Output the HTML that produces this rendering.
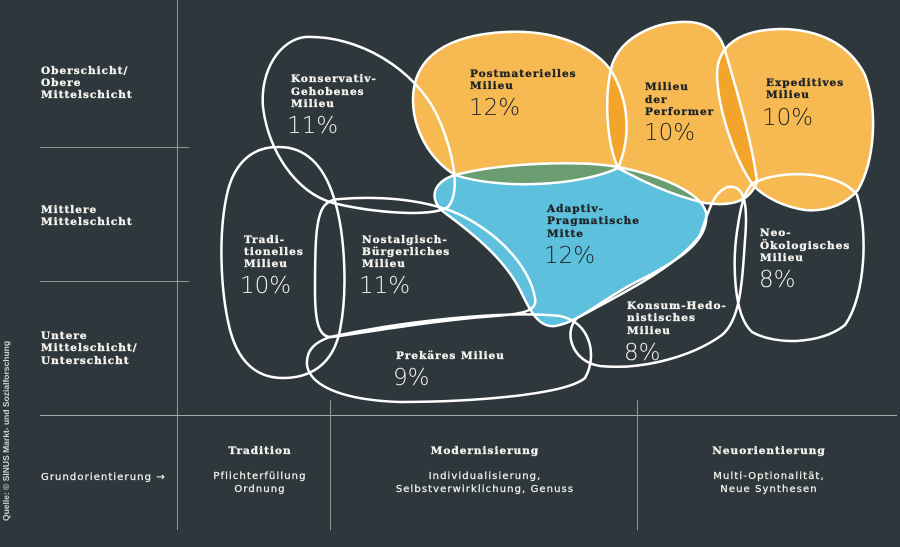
<!DOCTYPE html>
<html><head><meta charset="utf-8">
<style>
html,body{margin:0;padding:0;background:#2e373c;}
svg{display:block;}
.lab{font-family:"DejaVu Serif","Liberation Serif",serif;font-weight:bold;font-size:10.5px;letter-spacing:1px;stroke-width:0.35px;}
.pct{font-family:"DejaVu Sans","Liberation Sans",sans-serif;font-weight:200;font-size:23px;}
.sans{font-family:"DejaVu Sans","Liberation Sans",sans-serif;font-size:10px;letter-spacing:1.1px;stroke-width:0.25px;}
.w{fill:#f4f2ec;}
.d{fill:#1f2427;}
.lab.w,.sans.w{stroke:#f4f2ec;}
.lab.d{stroke:#1f2427;}
</style></head>
<body>
<svg width="900" height="547" viewBox="0 0 900 547" xmlns="http://www.w3.org/2000/svg">
<defs>
  <path id="konserv" d="M 305 37 C 360 35, 415 70, 437 115 C 452 148, 462 190, 448 207 C 430 218, 370 212, 333 203 C 295 192, 268 150, 263 107 C 260 70, 280 40, 305 37 Z"/>
  <path id="tradi" d="M 277 147 C 305 146, 323 165, 333 195 C 345 230, 348 290, 340 330 C 333 365, 310 378, 283 378 C 255 378, 238 360, 230 330 C 220 290, 218 230, 228 190 C 236 160, 255 147, 277 147 Z"/>
  <path id="nostal" d="M 340 199 C 390 195, 440 202, 470 220 C 505 240, 530 270, 535 298 C 538 312, 520 314, 495 316 C 440 320, 380 330, 332 337 C 318 338, 315 320, 315 290 C 315 250, 315 215, 325 205 C 330 200, 335 199, 340 199 Z"/>
  <path id="prek" d="M 330 337 C 400 322, 500 310, 560 316 C 590 322, 598 355, 585 378 C 565 395, 470 402, 400 402 C 340 400, 310 385, 307 365 C 306 350, 315 342, 330 337 Z"/>
  <path id="postm" d="M 455 175 C 428 158, 413 128, 413 100 C 413 55, 450 35, 505 32 C 560 29, 598 50, 612 72 C 628 100, 632 135, 618 168 C 580 186, 500 190, 455 175 Z"/>
  <path id="perf" d="M 618 168 C 606 140, 604 95, 612 65 C 622 35, 660 20, 690 22 C 712 24, 720 36, 724 47 C 735 85, 752 140, 757 182 C 750 200, 735 207, 705 203 C 670 195, 640 180, 618 168 Z"/>
  <path id="exped" d="M 753 185 C 735 160, 718 110, 717 75 C 717 45, 740 30, 780 29 C 820 29, 850 45, 865 75 C 878 110, 875 160, 858 190 C 845 205, 825 212, 805 210 C 785 207, 765 198, 753 185 Z"/>
  <path id="adapt" d="M 455 175 C 500 163, 580 160, 618 167 C 660 175, 700 192, 706 212 C 710 240, 680 260, 640 280 C 600 300, 580 322, 555 326 C 538 328, 530 310, 520 290 C 505 260, 475 235, 445 213 C 428 200, 432 182, 455 175 Z"/>
  <path id="konsum" d="M 577 318 C 620 295, 680 265, 700 235 C 708 215, 712 192, 728 187 C 745 184, 748 205, 745 240 C 742 285, 740 320, 722 335 C 690 358, 640 370, 600 366 C 572 362, 563 332, 577 318 Z"/>
  <path id="neo" d="M 753 183 C 785 168, 840 172, 857 195 C 868 230, 866 295, 845 325 C 820 345, 775 345, 752 332 C 733 315, 732 260, 738 225 C 741 205, 745 190, 753 183 Z"/>
  <clipPath id="cPostm"><use href="#postm"/></clipPath>
  <clipPath id="cPerf"><use href="#perf"/></clipPath>
  <clipPath id="cExped"><use href="#exped"/></clipPath>
</defs>

<rect x="0" y="0" width="900" height="547" fill="#2e373c"/>

<!-- grid lines -->
<g stroke="#8e969a" stroke-width="1" fill="none">
  <line x1="177.5" y1="0" x2="177.5" y2="530"/>
  <line x1="40" y1="147.5" x2="189" y2="147.5"/>
  <line x1="40" y1="281.5" x2="189" y2="281.5"/>
  <line x1="40" y1="415.5" x2="897" y2="415.5" stroke="#a2a9ac"/>
  <line x1="330.5" y1="400" x2="330.5" y2="530"/>
  <line x1="637.5" y1="400" x2="637.5" y2="530"/>
</g>

<!-- fills -->
<use href="#postm" fill="#f7ba53"/>
<use href="#perf" fill="#f7ba53"/>
<use href="#exped" fill="#f7ba53"/>
<use href="#perf" fill="#f3a42a" clip-path="url(#cPostm)"/>
<use href="#exped" fill="#f3a42a" clip-path="url(#cPerf)"/>
<use href="#adapt" fill="#5dc0dc"/>
<use href="#adapt" fill="#6a9e70" clip-path="url(#cPostm)"/>
<use href="#adapt" fill="#6a9e70" clip-path="url(#cPerf)"/>

<!-- outlines -->
<g fill="none" stroke="#ffffff" stroke-width="2.5" stroke-linejoin="round">
  <use href="#konserv"/>
  <use href="#tradi"/>
  <use href="#nostal"/>
  <use href="#prek"/>
  <use href="#postm"/>
  <use href="#perf"/>
  <use href="#exped"/>
  <use href="#adapt"/>
  <use href="#konsum"/>
  <use href="#neo"/>
</g>

<!-- left row labels -->
<g class="lab w">
  <text x="41" y="74">Oberschicht/</text>
  <text x="41" y="86">Obere</text>
  <text x="41" y="98">Mittelschicht</text>
  <text x="41" y="213">Mittlere</text>
  <text x="41" y="225">Mittelschicht</text>
  <text x="41" y="339">Untere</text>
  <text x="41" y="351">Mittelschicht/</text>
  <text x="41" y="364">Unterschicht</text>
</g>

<!-- blob labels -->
<g class="lab w">
  <text x="291" y="82">Konservativ-</text>
  <text x="291" y="95">Gehobenes</text>
  <text x="291" y="107">Milieu</text>
  <text x="244" y="243">Tradi-</text>
  <text x="244" y="255">tionelles</text>
  <text x="244" y="267">Milieu</text>
  <text x="362" y="243">Nostalgisch-</text>
  <text x="362" y="255">Bürgerliches</text>
  <text x="362" y="267">Milieu</text>
  <text x="396" y="359">Prekäres Milieu</text>
  <text x="627" y="309">Konsum-Hedo-</text>
  <text x="627" y="321">nistisches</text>
  <text x="627" y="334">Milieu</text>
  <text x="760" y="236">Neo-</text>
  <text x="760" y="249">Ökologisches</text>
  <text x="760" y="261">Milieu</text>
</g>
<g class="lab d">
  <text x="470" y="77">Postmaterielles</text>
  <text x="470" y="89">Milieu</text>
  <text x="645" y="90">Milieu</text>
  <text x="645" y="103">der</text>
  <text x="645" y="115">Performer</text>
  <text x="766" y="86">Expeditives</text>
  <text x="766" y="98">Milieu</text>
  <text x="547" y="212">Adaptiv-</text>
  <text x="547" y="224">Pragmatische</text>
  <text x="547" y="237">Mitte</text>
</g>

<!-- percentages -->
<g class="pct w">
  <text x="287" y="133">11%</text>
  <text x="240" y="293">10%</text>
  <text x="359" y="293">11%</text>
  <text x="393" y="385">9%</text>
  <text x="624" y="360">8%</text>
  <text x="759" y="287">8%</text>
</g>
<g class="pct d">
  <text x="469" y="115">12%</text>
  <text x="644" y="140">10%</text>
  <text x="762" y="125">10%</text>
  <text x="544" y="263">12%</text>
</g>

<!-- bottom row -->
<text class="sans w" x="41" y="480">Grundorientierung →</text>
<g class="lab w" text-anchor="middle">
  <text x="260" y="454">Tradition</text>
  <text x="485" y="454">Modernisierung</text>
  <text x="769" y="454">Neuorientierung</text>
</g>
<g class="sans w" text-anchor="middle">
  <text x="260" y="479">Pflichterfüllung</text>
  <text x="260" y="492">Ordnung</text>
  <text x="485" y="479">Individualisierung,</text>
  <text x="485" y="492">Selbstverwirklichung, Genuss</text>
  <text x="769" y="479">Multi-Optionalität,</text>
  <text x="769" y="492">Neue Synthesen</text>
</g>

<!-- source -->
<text transform="translate(9,431) rotate(-90)" text-anchor="middle" font-family="Liberation Sans, sans-serif" font-weight="bold" font-size="8.5" fill="#cfd3d5">Quelle: © SINUS Markt- und Sozialforschung</text>
</svg>
</body></html>
